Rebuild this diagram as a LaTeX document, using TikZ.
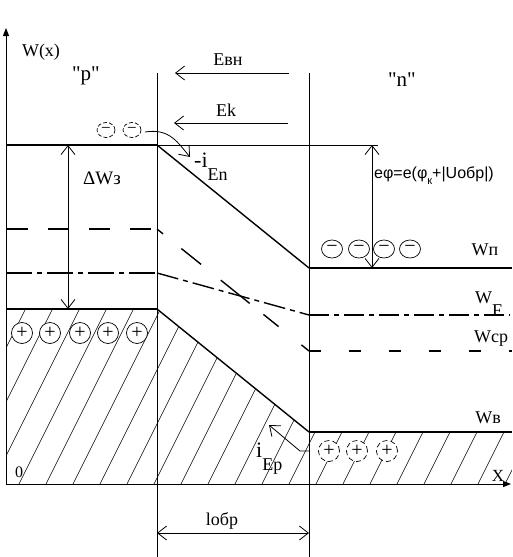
\documentclass[tikz,border=0pt]{standalone}
\usepackage{fontspec}
\setmainfont{Liberation Serif}[Ligatures=TeXOff]
\newfontfamily\lsans{Liberation Sans}
\usetikzlibrary{arrows.meta,shapes.geometric,calc}
\begin{document}
\begin{tikzpicture}[x=1pt,y=-1pt,
  thinl/.style={line width=0.8pt},
  bandl/.style={line width=1.8pt},
  midl/.style={line width=1.4pt},
  hatchl/.style={line width=0.6pt},
  barb/.style={line width=0.8pt,-{Straight Barb[length=9pt,width=14pt]}},
  dbarb/.style={line width=0.8pt,{Straight Barb[length=9pt,width=14pt]}-{Straight Barb[length=9pt,width=14pt]}},
  axis/.style={line width=1pt,-{Triangle[length=8pt,width=6pt]}},
  lbl/.style={inner sep=0pt,font=\fontsize{18}{18}\selectfont},
  pluscirc/.style={circle,draw,fill=white,minimum size=21pt,inner sep=0pt,line width=0.7pt,font=\fontsize{20}{20}\selectfont},
  dpluscirc/.style={pluscirc,dash pattern=on 5pt off 3pt},
  minuscirc/.style={ellipse,draw,fill=white,minimum width=21pt,minimum height=18pt,inner sep=0pt,line width=0.7pt,font=\fontsize{20}{20}\selectfont},
  dminuscirc/.style={minuscirc,minimum width=18pt,minimum height=15pt,dash pattern=on 4pt off 2pt,font=\fontsize{17}{17}\selectfont},
]
\useasboundingbox (0,0) rectangle (512,557);
% key points
\coordinate (O) at (6,484);
\coordinate (Ytop) at (6,28);
\coordinate (Xend) at (511,484);
\coordinate (B1t) at (157,73); \coordinate (B1b) at (157,557);
\coordinate (B2t) at (309,73); \coordinate (B2b) at (309,557);
\coordinate (c0) at (6,145); \coordinate (c1) at (157,145); \coordinate (c2) at (309,268); \coordinate (c3) at (512,268);
\coordinate (f0) at (6,273); \coordinate (f1) at (157,273); \coordinate (f2) at (309,315); \coordinate (f3) at (510,315);
\coordinate (m0) at (7,229); \coordinate (m1) at (157,229); \coordinate (m2) at (309,351); \coordinate (m3) at (512,351);
\coordinate (v0) at (6,309); \coordinate (v1) at (157,309); \coordinate (v2) at (309,432); \coordinate (v3) at (512,432);
\coordinate (br) at (512,484);
% hatching
\begin{scope}
\clip (v0) -- (v1) -- (v2) -- (v3) -- (br) -- (O) -- cycle;
\foreach \k in {-4,...,19} \draw[hatchl] (19+27*\k,484) -- ++(110,-220);
\end{scope}
% axes and boundaries
\draw[axis] (O) -- (Ytop);
\draw[axis] (O) -- (Xend);
\draw[thinl] (B1t) -- (B1b);
\draw[thinl] (B2t) -- (B2b);
% conduction band
\draw[bandl] (c0) -- (c1);
\draw[midl] (c1) -- (c2);
\draw[bandl] (c2) -- (c3);
\coordinate (ct) at (378,145);
\draw[thinl] (c1) -- (ct);
% fermi level
\draw[bandl,dash pattern=on 26pt off 5pt on 5pt off 5pt] (f0) -- (f1);
\draw[midl,dash pattern=on 22pt off 5pt on 5pt off 5pt] (f1) -- (f2);
\draw[bandl,dash pattern=on 20pt off 5pt on 5pt off 5pt] (f2) -- (f3);
% mid-gap level
\draw[bandl,dash pattern=on 21pt off 20pt] (m0) -- (m1);
\foreach \a/\b in {0/0.04,0.16/0.29,0.42/0.61,0.70/0.80,0.95/1}
  \draw[midl] ($(m1)!\a!(m2)$) -- ($(m1)!\b!(m2)$);
\draw[bandl,dash pattern=on 12pt off 28pt] (m2) -- (m3);
% valence band
\draw[bandl] (v0) -- (v1);
\draw[midl] (v1) -- (v2);
\draw[bandl] (v2) -- (v3);
% charges
\foreach \x/\n in {22/1,50/2,80/3,108/4,137/5} \node[pluscirc] (pp\n) at (\x,333) {+};
\foreach \x/\n in {329/1,357/2,387/3} \node[dpluscirc] (np\n) at (\x,451) {+};
\foreach \x/\n in {332/1,359/2,384/3,410/4} \node[minuscirc] (nm\n) at (\x,249) {−};
\node[dminuscirc] (pm1) at (106,130) {−};
\node[dminuscirc] (pm2) at (132,130) {−};
% field arrows
\coordinate (evs) at (289,73); \coordinate (eve) at (175,73);
\draw[barb] (evs) -- (eve);
\coordinate (eks) at (288,123); \coordinate (eke) at (174,123);
\draw[barb] (eks) -- (eke);
% Delta W arrow
\coordinate (dwt) at (68,145); \coordinate (dwb) at (68,309);
\draw[dbarb] (dwt) -- (dwb);
% e phi arrow
\coordinate (ept) at (372,145); \coordinate (epb) at (372,268);
\draw[dbarb] (ept) -- (epb);
% l arrow
\coordinate (ll) at (157,533); \coordinate (lr) at (309,533);
\draw[dbarb] (ll) -- (lr);
% current arrows
\coordinate (cas) at (145,132); \coordinate (cae) at (190,157);
\draw[barb] (cas) .. controls (170,128) and (178,143) .. (cae);
\coordinate (ias) at (310,451); \coordinate (iam) at (300,451); \coordinate (iae) at (269,425);
\draw[barb] (ias) -- (iam) -- (iae);
% labels
\node[lbl] (wx) at (41,52) {W(x)};
\node[lbl,font=\fontsize{21}{21}\selectfont] (pl) at (86,76) {"p"};
\node[lbl,font=\fontsize{21}{21}\selectfont] (nl) at (402,80) {"n"};
\node[lbl] (evl) at (228,60) {Евн};
\node[lbl] (ekl) at (226,110) {Ek};
\node[lbl,font=\fontsize{19}{19}\selectfont] (dwl) at (102,178) {ΔWз};
\node[lbl,anchor=base west] (ienl) at (194,167) {{\fontsize{22}{22}\selectfont -i}\raisebox{-13pt}{En}};
\node[lbl,anchor=base west] (iepl) at (256,457) {{\fontsize{22}{22}\selectfont i}\raisebox{-13pt}{Ep}};
\node[inner sep=0pt,anchor=west,font=\lsans\fontsize{16}{16}\selectfont] (epl) at (374,176) {eφ=e(φ\raisebox{-6pt}{\fontsize{11}{11}\selectfont к}+|Uобр|)};
\node[lbl] (wpl) at (485,250) {Wп};
\node[lbl,anchor=base west] (wfl) at (475,303) {W\raisebox{-13pt}{F}};
\node[lbl] (wcl) at (491,339) {Wср};
\node[lbl] (wvl) at (488,418) {Wв};
\node[lbl,font=\fontsize{17}{17}\selectfont] (xl) at (498,476) {X};
\node[lbl,font=\fontsize{16}{16}\selectfont] (zl) at (19,472) {0};
\node[lbl] (lol) at (222,521) {lобр};
\end{tikzpicture}
\end{document}
